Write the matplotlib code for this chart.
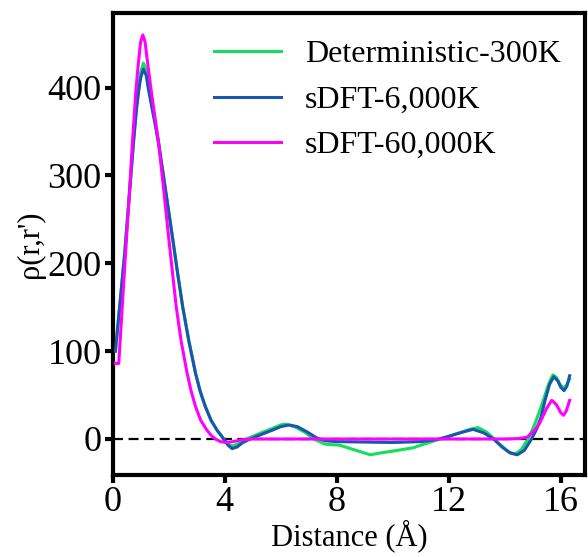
import numpy as np
import matplotlib
matplotlib.use("Agg")
import matplotlib.pyplot as plt

plt.rcParams['font.family'] = ['Liberation Serif', 'DejaVu Serif']

# Deterministic-300K
dist_det = [0.1, 0.25, 0.43, 0.6, 0.75, 0.85, 0.93, 1.0, 1.1, 1.2, 1.28, 1.4, 1.52, 1.64,
            1.8, 1.98, 2.15, 2.32, 2.5, 2.72, 2.96, 3.13, 3.31, 3.52, 3.73, 3.97, 4.12,
            4.27, 4.45, 4.7, 5.0, 5.3, 5.7, 6.0, 6.16, 6.5, 6.9, 7.17, 7.6, 8.1, 8.6,
            9.2, 9.55, 10.26, 10.73, 11.2, 11.7, 12.0, 12.4, 12.75, 13.05, 13.35, 13.6,
            13.9, 14.15, 14.37, 14.6, 14.83, 15.05, 15.25, 15.4, 15.5, 15.6, 15.72, 15.85,
            15.98, 16.1, 16.2, 16.32]
rho_det = [100, 150, 212, 280, 340, 378, 400, 417, 428, 420, 402, 380, 360, 338,
           303, 264, 227, 189, 151, 112, 75, 54, 37, 21, 10, 0, -6,
           -8, -6, -1, 3, 7, 12, 16, 17, 14, 7, 0, -6, -7, -12,
           -18, -16, -12.5, -10, -5, 0, 3, 7, 11, 13, 8, 1,
           -8, -15, -17, -12, 0, 15, 32, 46, 56, 65, 73, 70,
           62, 58, 61, 68]

# sDFT-6,000K
dist_6k = [0.1, 0.25, 0.43, 0.6, 0.75, 0.85, 0.93, 1.0, 1.1, 1.2, 1.28, 1.4, 1.52, 1.64,
           1.8, 1.98, 2.15, 2.32, 2.5, 2.72, 2.96, 3.13, 3.31, 3.52, 3.73, 3.97, 4.12,
           4.27, 4.45, 4.65, 4.92, 5.3, 5.7, 6.0, 6.3, 6.6, 6.95, 7.3, 7.6, 8.0, 9.0,
           10.0, 11.0, 11.4, 11.65, 12.0, 12.4, 12.87, 13.25, 13.6, 13.9, 14.2, 14.45,
           14.7, 14.96, 15.15, 15.3, 15.45, 15.6, 15.75, 15.9, 16.0, 16.12, 16.22, 16.32]
rho_6k = [100, 150, 210, 278, 339, 374, 396, 411, 421, 414, 398, 378, 358, 337,
          303, 264, 227, 189, 151, 112, 75, 54, 37, 21, 10, 0, -7,
          -11, -9, -4, 0, 5, 10, 14, 16, 14, 8, 1, -2, -3, -3.5,
          -4, -3, -1.5, 0, 3, 7, 11, 7, 0, -9, -16, -18,
          -13, 0, 12, 25, 45, 62, 71, 66, 59, 55, 60, 72]

# sDFT-60,000K
dist_60k = [0.1, 0.22, 0.43, 0.58, 0.71, 0.83, 0.92, 1.0, 1.08, 1.16, 1.25, 1.38, 1.5,
            1.64, 1.82, 2.01, 2.14, 2.27, 2.45, 2.66, 2.8, 2.96, 3.15, 3.37, 3.52, 3.67,
            3.85, 4.05, 4.3, 4.6, 5.0, 8.0, 11.0, 14.0, 14.5, 14.8, 15.07, 15.25, 15.5,
            15.68, 15.85, 16.0, 16.1, 16.2, 16.32]
rho_60k = [86, 86, 195, 270, 339, 396, 428, 452, 460, 452, 428, 396, 369,
           338, 285, 227, 189, 151, 111, 75, 55, 37, 21, 10, 4, 0,
           -3, -4, -3, -1, 0, 0, 0, 0, 0.5, 2, 10, 18, 35,
           44, 39, 30, 27, 32, 44]

labels = ['Deterministic-300K', 'sDFT-6,000K', 'sDFT-60,000K']
colors = ['#13e05a', '#1a55b0', '#ff00ff']

fig = plt.figure(figsize=(5.88, 5.57), dpi=100)
ax = fig.add_axes([0.1915, 0.1472, 0.8035, 0.8295])

ax.axhline(0, color='black', lw=1.6, ls=(0, (4.5, 2.5)), zorder=1)
ax.plot(dist_det, rho_det, color=colors[0], lw=2.2, label=labels[0], zorder=2)
ax.plot(dist_6k, rho_6k, color=colors[1], lw=2.2, label=labels[1], zorder=3)
ax.plot(dist_60k, rho_60k, color=colors[2], lw=2.2, label=labels[2], zorder=4)

ax.set_xlim(0, 16.87)
ax.set_ylim(-41, 485)
ax.set_xticks([0, 4, 8, 12, 16])
ax.set_yticks([0, 100, 200, 300, 400])
ax.tick_params(direction='out', length=6, width=3, labelsize=26, pad=2)
for s in ax.spines.values():
    s.set_linewidth(3)

ax.set_xlabel('Distance (Å)', fontsize=22, labelpad=0)
ax.set_ylabel("ρ(r,r')", fontsize=22, labelpad=2)

ax.legend(loc='upper right', bbox_to_anchor=(1.006, 1.0), frameon=False, fontsize=23,
          handlelength=2.1, handletextpad=0.75, labelspacing=0.5, borderaxespad=0.45)

fig.savefig('out.png', dpi=100)
